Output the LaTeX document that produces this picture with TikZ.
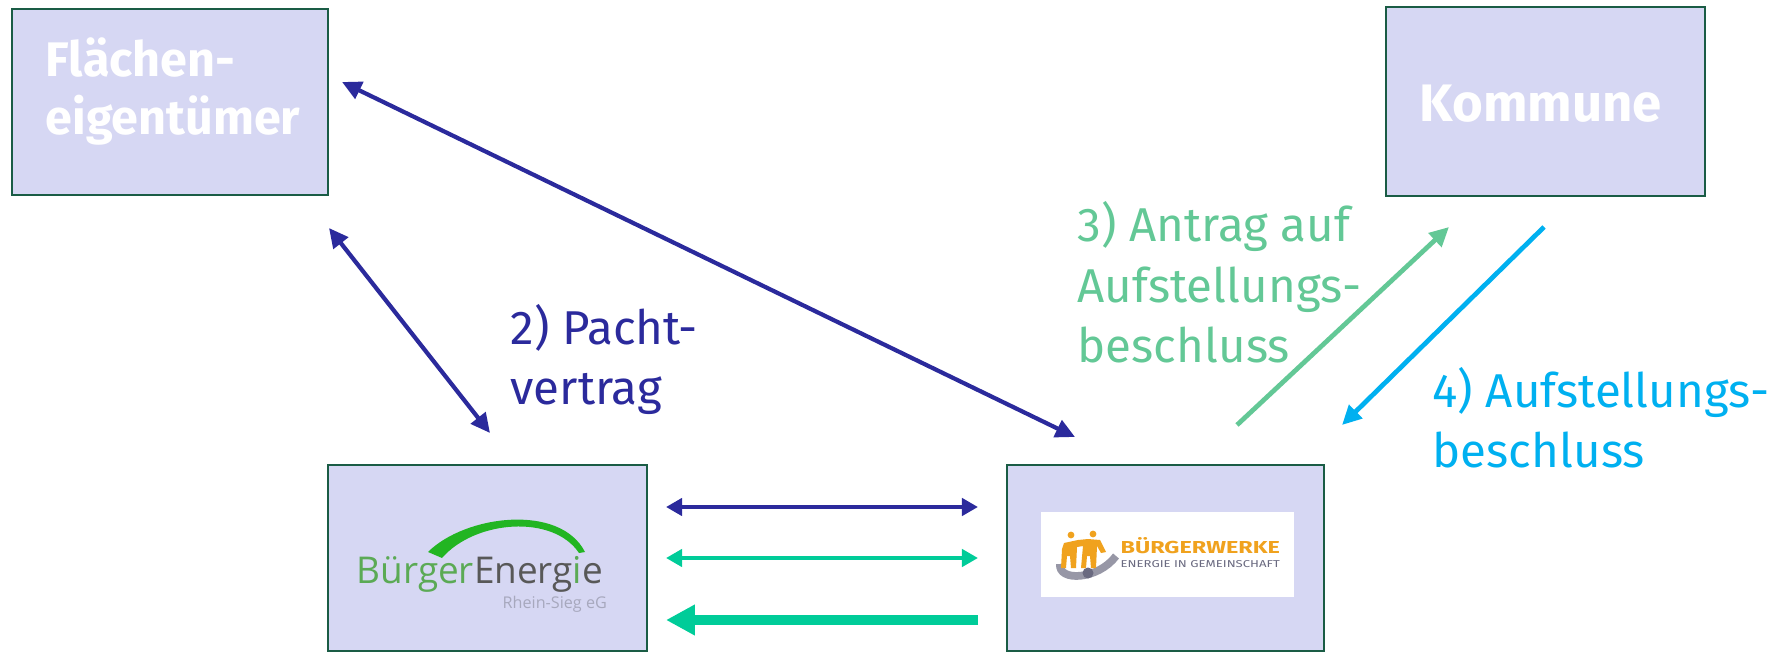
\documentclass[tikz,border=0pt]{standalone}
\usepackage{fontspec}
\usepackage{graphicx}
\setmainfont{Fira Sans}
\newfontfamily\logofont{Open Sans}
\usetikzlibrary{arrows.meta}
\definecolor{boxfill}{HTML}{D6D7F3}
\definecolor{boxline}{HTML}{1A5C45}
\definecolor{dblue}{HTML}{2B2A9C}
\definecolor{teal}{HTML}{00CC99}
\definecolor{lgreen}{HTML}{63C896}
\definecolor{cyanb}{HTML}{00B0F0}
\definecolor{begreen}{HTML}{5BAA55}
\definecolor{arcgreen}{HTML}{22B522}
\definecolor{begray}{HTML}{585858}
\definecolor{bwor}{HTML}{F0A21E}
\definecolor{bwgray}{HTML}{6A6A80}
\tikzset{
  actor/.style={draw=boxline, line width=0.8pt, fill=boxfill},
  boxtext/.style={text=white, inner sep=0pt, anchor=base west, align=left},
  lbl/.style={font=\fontsize{13.5}{17.3}\selectfont, inner sep=0pt, anchor=base west, align=left},
  thin/.style={line width=1.15pt, {Triangle[length=4.6pt,width=4.9pt]}-{Triangle[length=4.6pt,width=4.9pt]}},
  diag/.style={line width=1.2pt, {Triangle[length=5.5pt,width=5.2pt]}-{Triangle[length=5.5pt,width=5.2pt]}},
  single/.style={line width=1.35pt, -{Triangle[length=5.5pt,width=5.2pt]}},
  thick/.style={line width=2.85pt, -{Triangle[length=8.2pt,width=8.2pt]}}
}
\begin{document}
\begin{tikzpicture}[x=0.01cm,y=-0.01cm]
\useasboundingbox (0,0) rectangle (1773,652);
% boxes
\draw[actor] (12,9) rectangle (328,195);
\draw[actor] (1386,7) rectangle (1705,196);
\draw[actor] (328,465) rectangle (647,651);
\draw[actor] (1007,465) rectangle (1324,651);
\node[boxtext, font=\fontsize{13.8}{16.5}\selectfont\bfseries] (fetext) at (45,135) {Flächen-\\eigentümer};
\node[boxtext, font=\fontsize{15}{17}\selectfont\bfseries] (kommune) at (1419,122) {Kommune};
% BürgerEnergie logo
\fill[arcgreen] (428,552) .. controls (465,515) and (560,503) .. (585,552)
  -- (579,553) .. controls (553,514) and (475,520) .. (442,558) -- cycle;
\node[inner sep=0pt, anchor=base west, font=\logofont\fontsize{10.5}{12}\selectfont] (be) at (356,583)
  {\textcolor{begreen}{Bürger}\textcolor{begray}{Energ}\textcolor{begreen}{i}\textcolor{begray}{e}};
\node[inner sep=0pt, anchor=base west, text=black!22!boxfill, font=\logofont\fontsize{4.6}{5}\selectfont] (rs) at (502,608) {Rhein-Sieg eG};
% Buergerwerke logo
\fill[white] (1041,512) rectangle (1294,597);
\draw[bwgray!70, line width=2.2pt] (1060,564) .. controls (1058,582) and (1098,580) .. (1116,556);
\fill[bwgray] (1088,573) circle (5.5);
\fill[bwor] (1071,535) circle (3.4);
\fill[bwor] (1093,534) circle (3.4);
\fill[bwor] (1064,543) -- (1078,540) -- (1088,539) -- (1100,540) -- (1106,552) -- (1101,553) -- (1097,546) -- (1096,568) -- (1091,568) -- (1090,556) -- (1087,556) -- (1086,568) -- (1081,568) -- (1083,546) -- (1077,547) -- (1076,568) -- (1071,568) -- (1070,556) -- (1067,556) -- (1066,568) -- (1061,568) -- (1062,549) -- cycle;
\node[inner sep=0pt, anchor=base west, text=bwor, font=\bfseries] (bw1) at (1120,553) {\resizebox{1.59cm}{0.16cm}{BÜRGERWERKE}};
\node[inner sep=0pt, anchor=base west, text=bwgray] (bw2) at (1120,567) {\resizebox{1.59cm}{0.07cm}{ENERGIE IN GEMEINSCHAFT}};
% connector end points
\coordinate (a1s) at (342,82);
\coordinate (a1e) at (1075,437);
\coordinate (a2s) at (329,228);
\coordinate (a2e) at (490,433);
\coordinate (h1l) at (666,507);
\coordinate (h1r) at (978,507);
\coordinate (h2l) at (666,558);
\coordinate (h2r) at (978,558);
\coordinate (h3l) at (666,620);
\coordinate (h3r) at (978,620);
\coordinate (gs) at (1237,425);
\coordinate (ge) at (1449,227);
\coordinate (cs) at (1544,227);
\coordinate (ce) at (1342,425);
% connectors
\draw[diag, dblue] (a1s) -- (a1e);
\draw[diag, dblue] (a2s) -- (a2e);
\draw[thin, dblue] (h1l) -- (h1r);
\draw[thin, teal] (h2l) -- (h2r);
\draw[thick, teal] (h3r) -- (h3l);
\draw[single, lgreen] (gs) -- (ge);
\draw[single, cyanb] (cs) -- (ce);
% labels
\node[lbl, text=dblue] (l2) at (510,405) {2) Pacht-\\vertrag};
\node[lbl, text=lgreen] (l3) at (1077,363) {3) Antrag auf\\Aufstellungs-\\beschluss};
\node[lbl, text=cyanb] (l4) at (1432,468) {4) Aufstellungs-\\beschluss};
\end{tikzpicture}
\end{document}
